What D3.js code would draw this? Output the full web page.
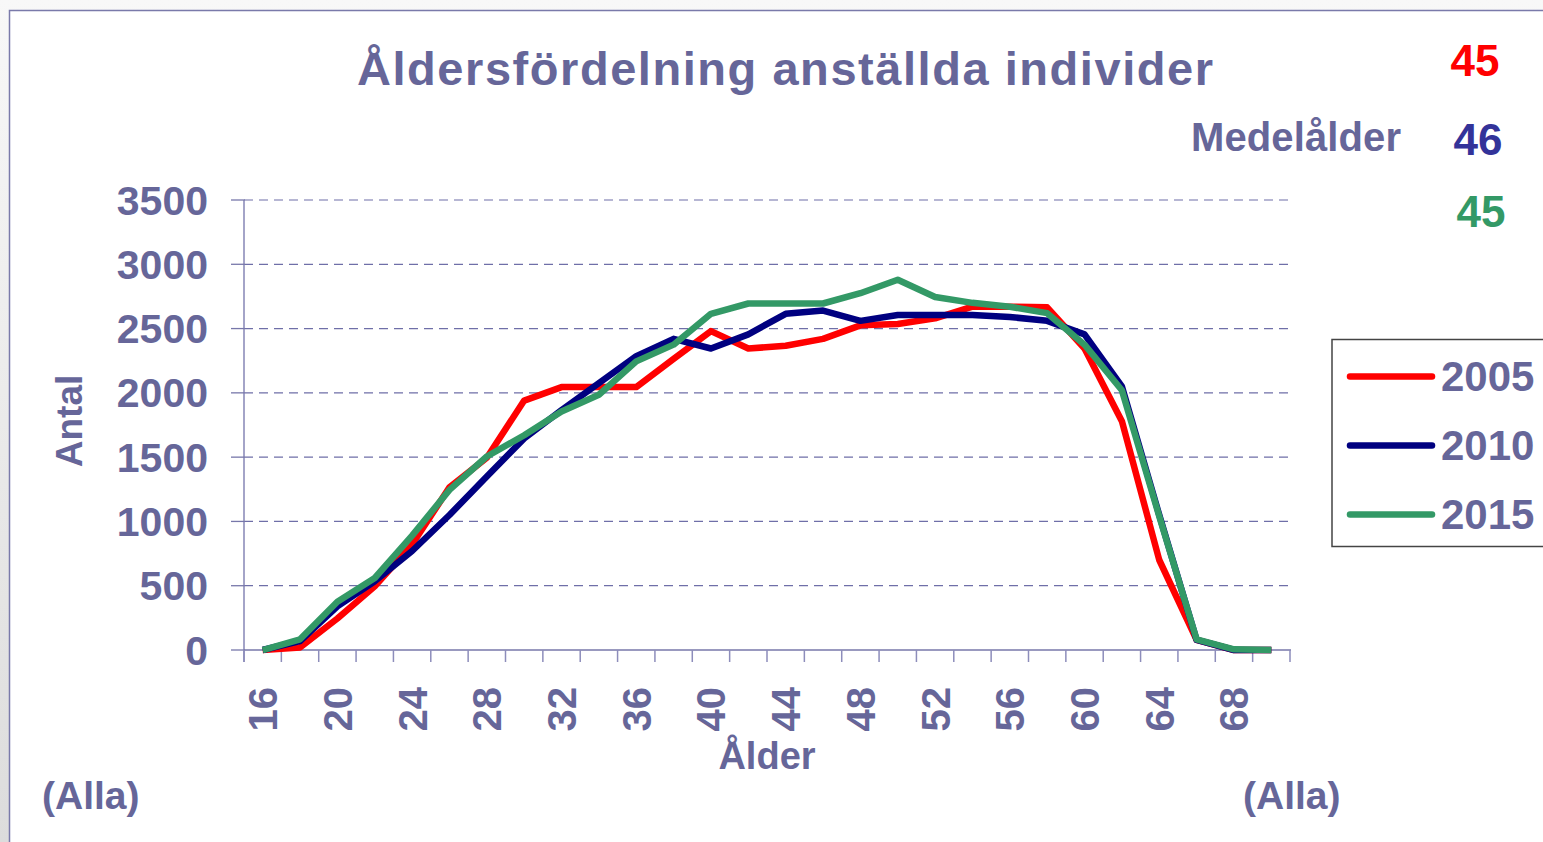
<!DOCTYPE html>
<html>
<head>
<meta charset="utf-8">
<script src="https://cdn.jsdelivr.net/npm/d3@7"></script>
<style>
  html, body { margin: 0; padding: 0; }
  body { width: 1543px; height: 842px; overflow: hidden; background: linear-gradient(#f8f8f8, #dcdcdc); }
  svg { display: block; font-family: "Liberation Sans", Arial, sans-serif; font-weight: bold; }
</style>
</head>
<body>
<svg width="1543" height="842"></svg>
<script>
const ages = [16, 18, 20, 22, 24, 26, 28, 30, 32, 34, 36, 38, 40, 42, 44, 46, 48, 50, 52, 54, 56, 58, 60, 62, 64, 66, 68, 70];
const ageLabels = [16, 20, 24, 28, 32, 36, 40, 44, 48, 52, 56, 60, 64, 68];
const years = ["2005", "2010", "2015"];
const antal2005 = [0, 20, 245, 495, 820, 1265, 1495, 1940, 2045, 2045, 2045, 2265, 2480, 2345, 2366, 2420, 2525, 2535, 2580, 2670, 2670, 2665, 2345, 1780, 700, 78, 0, 0];
const antal2010 = [0, 70, 340, 535, 770, 1050, 1350, 1645, 1865, 2075, 2285, 2420, 2345, 2455, 2615, 2640, 2560, 2605, 2605, 2605, 2590, 2560, 2455, 2050, 1050, 78, 0, 0];
const antal2015 = [0, 83, 375, 560, 890, 1245, 1505, 1670, 1855, 1985, 2245, 2375, 2615, 2695, 2695, 2695, 2775, 2880, 2745, 2700, 2670, 2620, 2375, 2020, 1040, 83, 5, 0];
const yTicks = [0, 500, 1000, 1500, 2000, 2500, 3000, 3500];
const medelalder = [45, 46, 45];

const lineColors = ["#ff0000", "#000080", "#339966"];
const numColors = ["#ff0000", "#333399", "#339966"];
const textColor = "#666699";

const svg = d3.select("svg");

// chart frame
svg.append("rect")
  .attr("x", 9.5).attr("y", 10.5)
  .attr("width", 1560).attr("height", 860)
  .attr("fill", "#fff")
  .attr("stroke", "#7a7aaa")
  .attr("stroke-width", 1.5);

const x = d3.scaleBand().domain(ages).range([244, 1290]);
const y = d3.scaleLinear().domain([0, 3500]).range([650, 200]);

// gridlines
svg.append("g")
  .selectAll("line")
  .data(yTicks.filter(d => d > 0))
  .enter()
  .append("line")
  .attr("x1", 244).attr("x2", 1290)
  .attr("y1", d => y(d)).attr("y2", d => y(d))
  .attr("stroke", "#6f6fa8")
  .attr("stroke-width", 1.2)
  .attr("stroke-dasharray", "9,6");

// y axis
const yAxis = svg.append("g");
yAxis.append("line")
  .attr("x1", 244).attr("x2", 244)
  .attr("y1", y(3500)).attr("y2", 662)
  .attr("stroke", "#a4a4c8").attr("stroke-width", 2);
yAxis.selectAll(".tick")
  .data(yTicks)
  .enter()
  .append("line")
  .attr("x1", 231).attr("x2", 245)
  .attr("y1", d => y(d)).attr("y2", d => y(d))
  .attr("stroke", "#7777aa").attr("stroke-width", 1.3);
yAxis.selectAll("text")
  .data(yTicks)
  .enter()
  .append("text")
  .attr("x", 208)
  .attr("y", d => y(d) + 14.5)
  .attr("text-anchor", "end")
  .attr("font-size", 41)
  .attr("fill", textColor)
  .text(d => d);

// x axis
const xAxis = svg.append("g");
xAxis.append("line")
  .attr("x1", 244).attr("x2", 1291)
  .attr("y1", 650).attr("y2", 650)
  .attr("stroke", "#7777aa").attr("stroke-width", 1.5);
xAxis.selectAll(".tick")
  .data(ages.concat([null]))
  .enter()
  .append("line")
  .attr("x1", d => d === null ? x.range()[1] : x(d))
  .attr("x2", d => d === null ? x.range()[1] : x(d))
  .attr("y1", 650).attr("y2", 662)
  .attr("stroke", "#8d8dbb").attr("stroke-width", 1.5);
xAxis.selectAll("text")
  .data(ageLabels)
  .enter()
  .append("text")
  .attr("transform", d => `translate(${x(d) + x.bandwidth() / 2 + 14.5}, 687) rotate(-90)`)
  .attr("text-anchor", "end")
  .attr("font-size", 40)
  .attr("fill", textColor)
  .text(d => d);

// series
const series = [antal2005, antal2010, antal2015];
const line = d3.line()
  .x((d, i) => x(ages[i]) + x.bandwidth() / 2)
  .y(d => y(d));

svg.append("g")
  .selectAll("path")
  .data(series)
  .enter()
  .append("path")
  .attr("d", line)
  .attr("fill", "none")
  .attr("stroke", (d, i) => lineColors[i])
  .attr("stroke-width", 6.5)
  .attr("stroke-linejoin", "round");

// titles
svg.append("text")
  .attr("x", 357).attr("y", 85)
  .attr("font-size", 47)
  .attr("textLength", 856)
  .attr("lengthAdjust", "spacing")
  .attr("fill", textColor)
  .text("Åldersfördelning anställda individer");

svg.append("text")
  .attr("transform", "translate(82, 421) rotate(-90)")
  .attr("text-anchor", "middle")
  .attr("font-size", 37)
  .attr("fill", textColor)
  .text("Antal");

svg.append("text")
  .attr("x", 767).attr("y", 769)
  .attr("text-anchor", "middle")
  .attr("font-size", 38)
  .attr("fill", textColor)
  .text("Ålder");

svg.append("text")
  .attr("x", 42).attr("y", 809)
  .attr("font-size", 39)
  .attr("fill", textColor)
  .text("(Alla)");

svg.append("text")
  .attr("x", 1243).attr("y", 809)
  .attr("font-size", 39)
  .attr("fill", textColor)
  .text("(Alla)");

// medelålder
svg.append("text")
  .attr("x", 1401).attr("y", 151)
  .attr("text-anchor", "end")
  .attr("font-size", 40)
  .attr("textLength", 210)
  .attr("lengthAdjust", "spacing")
  .attr("fill", textColor)
  .text("Medelålder");

svg.append("g")
  .selectAll("text")
  .data(medelalder)
  .enter()
  .append("text")
  .attr("x", (d, i) => [1475, 1478, 1481][i])
  .attr("y", (d, i) => [76, 155, 227][i])
  .attr("text-anchor", "middle")
  .attr("font-size", 44)
  .attr("fill", (d, i) => numColors[i])
  .text(d => d);

// legend
const legend = svg.append("g").attr("transform", "translate(1332, 339.5)");
legend.append("rect")
  .attr("x", 0).attr("y", 0)
  .attr("width", 260).attr("height", 207)
  .attr("fill", "#fff")
  .attr("stroke", "#444")
  .attr("stroke-width", 1.5);
const item = legend.selectAll(".item")
  .data(years)
  .enter()
  .append("g")
  .attr("transform", (d, i) => `translate(0, ${37 + i * 69})`);
item.append("line")
  .attr("x1", 18).attr("x2", 100)
  .attr("y1", 0).attr("y2", 0)
  .attr("stroke", (d, i) => lineColors[i])
  .attr("stroke-width", 6.5)
  .attr("stroke-linecap", "round");
item.append("text")
  .attr("x", 109).attr("y", 14)
  .attr("font-size", 42)
  .attr("fill", textColor)
  .text(d => d);
</script>
</body>
</html>
